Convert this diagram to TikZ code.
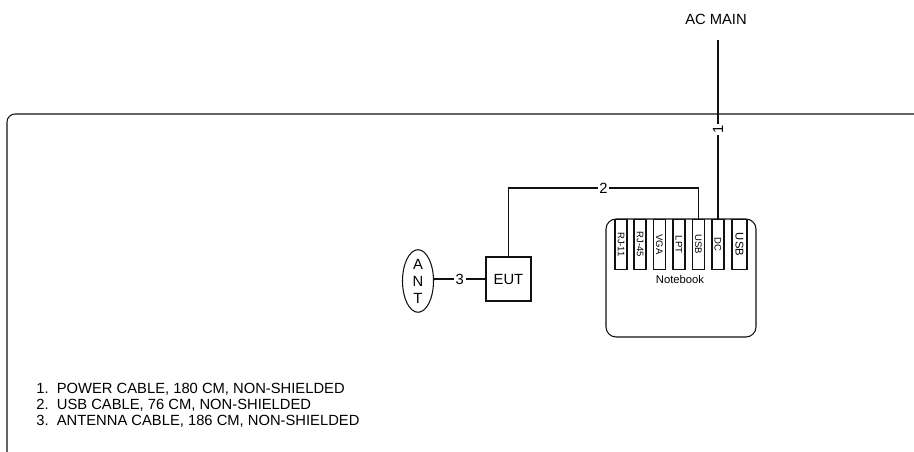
\documentclass[tikz,border=0pt]{standalone}
\usepackage{fontspec}
\setmainfont{Liberation Sans}
\usetikzlibrary{positioning,calc,shapes.geometric}
\definecolor{ink}{HTML}{111111}
\tikzset{
  wire/.style={draw=ink, line width=.6pt},
  frame/.style={draw=ink, line width=.6pt, rounded corners=.16cm},
  box/.style={draw=ink, line width=.6pt, inner sep=0pt, font=\fontsize{8.4}{9.7}\selectfont},
  port/.style={draw=ink, line width=.6pt, rotate=-90, inner sep=0pt,
    minimum width=1cm, minimum height=.24cm, font=\fontsize{5.4}{6}\selectfont},
  cablenum/.style={fill=white, inner sep=1pt, font=\fontsize{8.4}{9.7}\selectfont},
  txt/.style={inner sep=0pt, font=\fontsize{8.4}{9.7}\selectfont}
}

\begin{document}
\begin{tikzpicture}[x=.02cm,y=-.02cm]
  \useasboundingbox (0,0) rectangle (914,452);
  \draw[frame] (7,452) -- (7,114) -- (914,114);

  \node[txt,anchor=base] (acmain) at (716,25) {AC MAIN};
  \coordinate (plug) at (718,40);
  \coordinate (usbrun) at (0,188);

  % notebook with its ports
  \node[draw=ink,line width=.6pt,rounded corners=.2cm,minimum width=3cm,minimum height=2.36cm] (nb) at (681,278) {};
  \node[port] (rj11) at (621,244.5) {RJ-11};
  \node[port] (rj45) at (640,244.5) {RJ-45};
  \node[port] (vga) at (659.5,244.5) {VGA};
  \node[port] (lpt) at (679,244.5) {LPT};
  \node[port] (usb) at (698.5,244.5) {USB};
  \node[port] (dc) at (718,244.5) {DC};
  \node[port,minimum height=.3cm,font=\fontsize{6.4}{7}\selectfont] (usbb) at (739.5,244.5) {USB};
  \node[inner sep=0pt,font=\fontsize{6.4}{7}\selectfont] (nblabel) at (680,279) {Notebook};

  \node[box,minimum width=.9cm,minimum height=.88cm] (eut) at (508.5,279) {EUT};
  \node[box,ellipse,align=center,minimum width=.62cm,minimum height=1.18cm] (ant) at (418,281) {A\\N\\T};

  \draw[wire] (dc.west) -- node[cablenum,rotate=90,pos=.5] (n1) {1} (plug);
  \draw[wire] (usb.west) |- node[cablenum,pos=.75] (n2) {2} (eut.north |- usbrun) -- (eut.north);
  \draw[wire] (ant.east |- eut.west) -- node[cablenum] (n3) {3} (eut.west);

  % cable list
  \node[txt,anchor=base west] (leg1) at (36,394) {1.~~POWER CABLE, 180 CM, NON-SHIELDED};
  \node[txt,anchor=base west] (leg2) at (36,410) {2.~~USB CABLE, 76 CM, NON-SHIELDED};
  \node[txt,anchor=base west] (leg3) at (36,426) {3.~~ANTENNA CABLE, 186 CM, NON-SHIELDED};
\end{tikzpicture}
\end{document}
